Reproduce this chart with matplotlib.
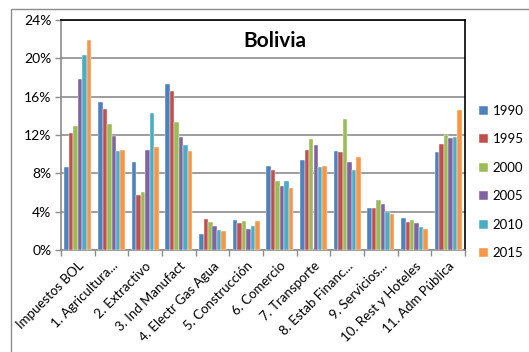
import matplotlib
matplotlib.use("Agg")
import matplotlib.pyplot as plt
import numpy as np
from matplotlib.patches import Rectangle
from matplotlib.ticker import FuncFormatter

plt.rcParams['font.family'] = ['Lato', 'DejaVu Sans']

categories = ["Impuestos BOL", "1. Agricultura...", "2. Extractivo", "3. Ind Manufact",
              "4. Electr Gas Agua", "5. Construcción", "6. Comercio", "7. Transporte",
              "8. Estab Financ...", "9. Servicios...", "10. Rest y Hoteles", "11. Adm Pública"]
years = ["1990", "1995", "2000", "2005", "2010", "2015"]

s1990 = [8.7, 15.4, 9.2, 17.3, 1.7, 3.1, 8.8, 9.4, 10.3, 4.4, 3.3, 10.2]
s1995 = [12.2, 14.7, 5.7, 16.6, 3.2, 2.8, 8.4, 10.4, 10.2, 4.4, 2.9, 11.1]
s2000 = [12.9, 13.2, 6.1, 13.4, 2.9, 3.0, 7.2, 11.6, 13.7, 5.2, 3.1, 12.0]
s2005 = [17.8, 11.9, 10.4, 11.8, 2.5, 2.2, 6.7, 11.0, 9.2, 4.8, 2.8, 11.7]
s2010 = [20.3, 10.3, 14.3, 11.0, 2.1, 2.5, 7.2, 8.7, 8.4, 4.0, 2.4, 11.8]
s2015 = [21.9, 10.4, 10.7, 10.3, 2.0, 3.0, 6.5, 8.8, 9.7, 3.8, 2.2, 14.6]
series = [s1990, s1995, s2000, s2005, s2010, s2015]
colors = ["#4F81BD", "#C0504D", "#9BBB59", "#8064A2", "#4BACC6", "#F79646"]

fig = plt.figure(figsize=(5.29, 3.52), dpi=100)
fig.patch.set_facecolor("white")

# outer chart frame
fig.add_artist(Rectangle((11 / 529, -0.01), 1.2, 1 - 9 / 352 + 0.01,
                         transform=fig.transFigure, fill=False,
                         edgecolor="#8c8c8c", linewidth=1.0))

ax = fig.add_axes([61 / 529, 1 - 250 / 352, (465 - 61) / 529, (250 - 20) / 352])

n = len(series)
group = 0.8
w = group / n
x = np.arange(len(categories))
for i, (vals, c, yr) in enumerate(zip(series, colors, years)):
    ax.bar(x - group / 2 + w * (i + 0.5), vals, width=w, color=c,
           edgecolor="white", linewidth=0.3, label=yr, zorder=3)

ax.set_xlim(-0.5, len(categories) - 0.5)
ax.set_ylim(0, 24)
ax.set_yticks(np.arange(0, 25, 4))
ax.yaxis.set_major_formatter(FuncFormatter(lambda v, p: f"{v:.0f}%"))
ax.grid(axis="y", color="#8c8c8c", linewidth=1.2, zorder=0)
ax.set_axisbelow(True)

ax.set_xticks(x)
ax.set_xticklabels(categories, rotation=45, ha="right", rotation_mode="anchor",
                   fontsize=9.5)
ax.tick_params(axis="x", which="major", length=0, pad=7)
ax.set_xticks(np.arange(-0.5, len(categories)), minor=True)
ax.tick_params(axis="x", which="minor", length=4, color="#8c8c8c", width=1)
ax.tick_params(axis="y", length=4, color="#8c8c8c", width=1, labelsize=10, pad=3)

for s in ["left", "bottom"]:
    ax.spines[s].set_color("#8c8c8c")
    ax.spines[s].set_linewidth(1.2)
for s in ["top", "right"]:
    ax.spines[s].set_color("black")
    ax.spines[s].set_linewidth(1.2)

ax.text(0.53, 0.91, "Bolivia", transform=ax.transAxes, ha="center", va="center",
        fontsize=15, fontweight="bold")

leg = fig.legend(loc="center left", bbox_to_anchor=(479 / 529, 1 - 182 / 352),
                 frameon=False, fontsize=9.5, handlelength=0.7, handleheight=0.7,
                 labelspacing=1.25, handletextpad=0.35, borderaxespad=0,
                 borderpad=0)

fig.savefig("out.png", dpi=100)
